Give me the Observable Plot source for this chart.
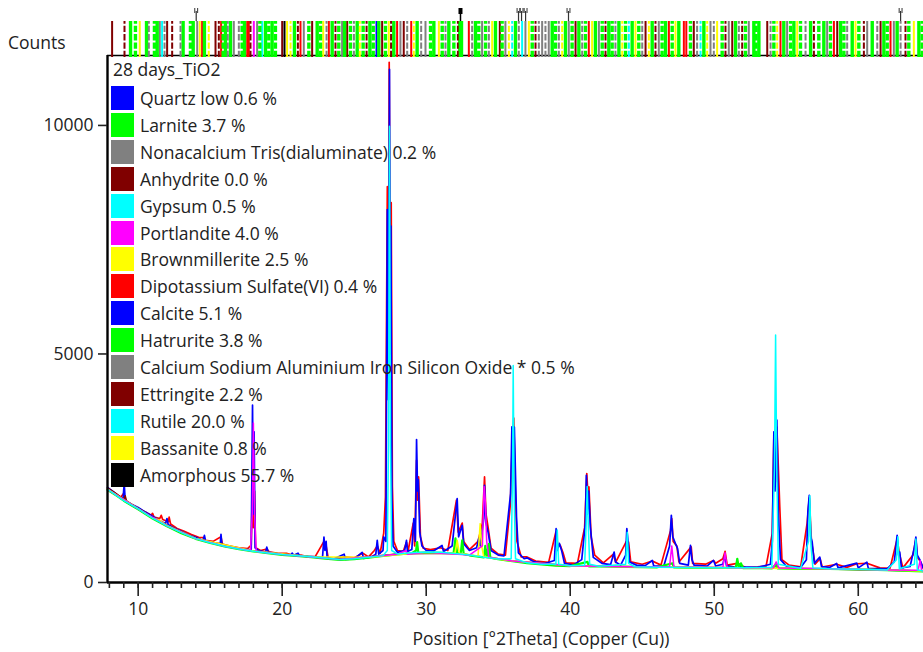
<!DOCTYPE html>
<html><head><meta charset="utf-8">
<script src="https://cdn.jsdelivr.net/npm/d3@7"></script>
<script src="https://cdn.jsdelivr.net/npm/@observablehq/plot@0.6"></script>
<style>
body{margin:0;background:#fff;}
#wrap{position:relative;width:923px;height:652px;overflow:hidden;font-family:"Open Sans",sans-serif;color:#222;}
#wrap svg{position:absolute;left:0;top:0;}
.lab{position:absolute;white-space:nowrap;font-size:17.5px;line-height:20px;}
.row{position:absolute;left:111px;height:24px;white-space:nowrap;font-size:17.5px;}
.sw{position:absolute;left:0;top:0;width:23px;height:24px;}
.tx{position:absolute;left:29px;top:0;line-height:24px;}
</style></head>
<body><div id="wrap"></div>
<script>
// ---------- data ----------
const sampleName = "28 days_TiO2";
const phaseNames = ["Quartz low 0.6 %","Larnite 3.7 %","Nonacalcium Tris(dialuminate) 0.2 %","Anhydrite 0.0 %","Gypsum 0.5 %","Portlandite 4.0 %","Brownmillerite 2.5 %","Dipotassium Sulfate(VI) 0.4 %","Calcite 5.1 %","Hatrurite 3.8 %","Calcium Sodium Aluminium Iron Silicon Oxide * 0.5 %","Ettringite 2.2 %","Rutile 20.0 %","Bassanite 0.8 %","Amorphous 55.7 %"];
const phaseColors = ["#0000ff","#00ff00","#808080","#800000","#00ffff","#ff00ff","#ffff00","#ff0000","#0000ff","#00ff00","#808080","#800000","#00ffff","#ffff00","#000000"];
const yTicks = [0, 5000, 10000];
const xMajorTicks = [10, 20, 30, 40, 50, 60];
const xMinorTicks = d3.range(8, 65, 1);
const xTitle = "Position [°2Theta] (Copper (Cu))";
const yTitle = "Counts";

// observed pattern (red)
const observed = [[7.87,2050],[8.3,1950],[8.6,1900],[8.8,1870],[9.0,1950],[9.1,1780],[9.5,1700],[10,1620],[10.4,1560],[10.9,1470],[11.0,1513],[11.1,1430],[11.5,1400],[11.6,1470],[11.7,1380],[12.1,1330],[12.15,1432],[12.25,1280],[12.7,1180],[13.2,1120],[13.7,1050],[14.2,990],[14.55,980],[14.65,920],[15.2,900],[15.75,1000],[15.85,840],[16.3,800],[17,760],[17.6,740],[17.85,820],[17.92,2020],[18.0,1200],[18.08,2000],[18.15,760],[18.5,700],[18.93,730],[19.1,670],[19.7,640],[20.3,640],[20.7,600],[21.3,600],[21.8,560],[22.3,570],[22.9,900],[23.05,800],[23.2,530],[23.8,520],[24.3,560],[25,540],[25.6,640],[26.0,560],[26.4,700],[26.6,800],[26.8,640],[27.05,1081],[27.17,1870],[27.3,8660],[27.38,5000],[27.43,11380],[27.5,6000],[27.57,8310],[27.65,2105],[27.75,900],[28.0,700],[28.4,680],[28.63,880],[28.75,700],[29.1,1300],[29.2,800],[29.33,2675],[29.4,1800],[29.47,2310],[29.6,1000],[29.8,750],[30.3,720],[31.0,760],[31.5,700],[32.1,1800],[32.22,1100],[32.5,1300],[32.6,900],[33,720],[33.6,900],[33.9,1300],[34.05,2310],[34.15,1500],[34.3,1200],[34.5,750],[35,620],[35.5,600],[35.84,1700],[35.95,2800],[36.08,3597],[36.2,1800],[36.3,900],[36.6,560],[37,560],[37.6,470],[38.5,440],[39.0,1100],[39.15,800],[39.3,820],[39.5,650],[39.7,430],[40.5,420],[41.0,1200],[41.15,2383],[41.25,1800],[41.3,2090],[41.45,1000],[41.7,600],[42.3,430],[43,620],[43.15,440],[43.9,900],[44.05,884],[44.2,450],[45,400],[45.7,470],[46.3,380],[46.97,1140],[47.05,1400],[47.15,900],[47.4,800],[47.55,450],[48.4,780],[48.5,420],[49.4,400],[49.95,480],[50.1,420],[50.6,520],[50.75,680],[50.9,380],[51.6,420],[52.2,320],[53,340],[53.6,360],[54.03,1074],[54.14,3200],[54.25,2200],[54.35,3400],[54.55,1651],[54.7,500],[55.2,380],[56,340],[56.45,1300],[56.6,1850],[56.75,900],[57,400],[57.35,520],[57.5,340],[58.5,400],[59.2,330],[59.9,410],[60.6,420],[61.5,320],[62.2,310],[62.7,950],[62.85,640],[63.1,320],[63.8,600],[64.0,950],[64.1,550],[64.3,470],[64.53,300]];

// calculated pattern (blue)
const calculated = [[7.87,2080],[8.3,1980],[8.7,1880],[8.95,1830],[9.03,2165],[9.1,1800],[9.5,1720],[10,1640],[10.5,1540],[11,1450],[11.5,1350],[11.9,1290],[12.0,1400],[12.08,1270],[12.5,1190],[13,1120],[13.5,1040],[14,990],[14.5,920],[14.6,1030],[14.68,910],[15,890],[15.5,840],[15.7,830],[15.75,1052],[15.82,815],[16.5,780],[17,750],[17.5,720],[17.85,720],[17.94,3880],[18.0,1500],[18.05,3296],[18.12,760],[18.4,690],[18.85,665],[18.93,774],[19.0,700],[19.05,660],[19.5,640],[20,615],[20.6,600],[20.7,643],[20.8,595],[21.1,640],[21.2,585],[22,565],[22.8,550],[22.9,994],[22.97,700],[23.05,900],[23.12,540],[23.6,520],[24.3,620],[24.4,505],[25,515],[25.55,660],[25.65,525],[26.2,560],[26.5,620],[26.6,921],[26.7,620],[27.0,700],[27.05,1000],[27.2,900],[27.3,8160],[27.38,4000],[27.45,11228],[27.5,5000],[27.55,7800],[27.62,1800],[27.7,800],[28,660],[28.5,700],[28.63,921],[28.7,680],[29.0,720],[29.14,1400],[29.25,900],[29.33,3129],[29.4,2000],[29.45,2250],[29.55,1100],[29.7,800],[30,700],[30.5,690],[31.1,811],[31.2,680],[31.8,800],[32.15,1835],[32.25,1000],[32.5,1250],[32.6,850],[33,700],[33.5,760],[33.65,965],[33.75,800],[34.0,1400],[34.05,2127],[34.15,1300],[34.3,1100],[34.5,700],[35,600],[35.4,580],[35.86,1945],[35.95,3406],[36.05,2500],[36.12,3400],[36.27,1432],[36.4,650],[36.8,520],[37.0,540],[37.5,450],[38.3,420],[38.9,480],[39.02,1177],[39.1,700],[39.25,855],[39.4,702],[39.6,420],[40.2,380],[40.8,500],[41.05,1300],[41.12,2346],[41.2,1500],[41.28,2000],[41.4,1213],[41.6,550],[42.2,420],[42.8,390],[43.05,665],[43.15,450],[43.5,380],[43.85,600],[43.93,1177],[44.02,884],[44.12,450],[44.6,380],[45.2,370],[45.7,482],[45.8,360],[46.5,360],[46.9,800],[47.02,1469],[47.12,1000],[47.3,855],[47.45,745],[47.6,420],[48.2,380],[48.35,811],[48.45,500],[48.6,380],[49.5,360],[49.95,482],[50.1,360],[50.6,400],[50.74,600],[50.85,370],[51.5,330],[51.6,450],[51.8,340],[53,330],[53.9,400],[54.03,900],[54.14,3296],[54.22,2000],[54.35,3553],[54.45,1500],[54.6,500],[55,360],[56,330],[56.4,500],[56.5,1542],[56.6,1908],[56.7,1000],[56.8,884],[56.95,420],[57.33,555],[57.45,350],[58,330],[58.5,417],[58.6,320],[59.9,423],[60,320],[60.6,445],[60.7,310],[62,300],[62.5,450],[62.7,1030],[62.8,600],[62.88,665],[63.0,320],[63.6,350],[63.9,774],[64.0,994],[64.1,600],[64.3,482],[64.53,300]];

// phase profiles
const larniteProfile = [[7.87,2030],[8.5,1900],[9,1790],[10,1600],[11,1400],[12,1230],[13,1080],[14,955],[15,865],[16,790],[17,730],[18,680],[19,640],[20,605],[21,580],[22,555],[23,522],[24,497],[25,512],[26,545],[27,580],[28,615],[29,640],[29.3,700],[29.37,884],[29.45,650],[30,655],[31,650],[31.9,640],[32.03,965],[32.15,650],[32.4,640],[32.5,921],[32.6,630],[33,595],[34,550],[34.1,800],[34.2,560],[34.35,848],[34.45,545],[35,510],[36,465],[37,425],[38,395],[39,370],[40,360],[41.2,450],[41.3,352],[42,350],[44,340],[46,330],[47.1,420],[47.2,330],[48,325],[50,320],[51.5,318],[51.6,519],[51.7,330],[51.85,420],[52,316],[54,310],[54.3,400],[54.4,310],[56,300],[58,295],[60,285],[62,270],[64.53,245]];
const ettringiteProfile = [[7.87,2070],[8.5,1940],[9.0,1820],[9.1,1900],[9.2,1780],[10,1625],[11,1425],[12,1255],[13,1105],[14,972],[15,882],[15.8,850],[15.9,800],[17,742],[18,692],[20,617],[24,507],[28,627],[32,637],[36,472],[40,367],[48,332],[56,307],[64.53,252]];
const brownProfile = [[7.87,2040],[10,1615],[11,1415],[11.5,1360],[12,1245],[14,962],[18,688],[22,563],[26,553],[30,663],[32.0,640],[32.15,921],[32.3,640],[33.6,580],[33.75,1287],[33.85,800],[34.0,560],[36,470],[40,365],[44,345],[48,330],[52,320],[56,305],[60,290],[64.53,250]];
const portlanditeProfile = [[7.87,2040],[10,1610],[12,1240],[14,960],[16,795],[17.8,695],[17.92,1500],[18.0,3490],[18.08,1500],[18.2,680],[20,612],[24,503],[28,620],[28.6,700],[28.7,620],[30,660],[33,600],[33.9,800],[34.02,2100],[34.1,1800],[34.2,900],[34.35,555],[36,470],[40,365],[44,345],[46.9,350],[47.05,800],[47.2,340],[50.6,330],[50.75,650],[50.9,325],[54.1,320],[54.3,450],[54.5,315],[58,300],[62,275],[64.15,270],[64.3,482],[64.4,260],[64.53,250]];
const rutileProfile = [[7.87,2040],[9,1790],[10,1610],[11,1410],[12,1240],[13,1090],[14,960],[15,870],[16,795],[17,735],[18,685],[19,645],[20,612],[22,562],[24,503],[25,518],[26,553],[27,588],[27.3,700],[27.38,3000],[27.45,9980],[27.52,3000],[27.6,700],[28,625],[29,650],[30,665],[31,660],[32,635],[33,600],[34,555],[35,515],[35.9,520],[36.0,2500],[36.04,4750],[36.1,2000],[36.2,520],[37,430],[38,400],[39,400],[39.1,1150],[39.2,400],[40,365],[41,380],[41.1,1200],[41.18,2100],[41.25,1300],[41.35,400],[42,355],[43.85,400],[43.96,1100],[44.05,420],[44.5,345],[46,335],[48,330],[50,325],[52,320],[54,330],[54.18,2500],[54.26,5417],[54.34,2500],[54.45,400],[56,310],[56.55,900],[56.64,1900],[56.72,800],[56.85,320],[58,300],[60,290],[62,275],[62.65,500],[62.75,1000],[62.85,300],[63.9,400],[64.0,950],[64.1,280],[64.53,250]];

// reference stick positions (°2θ) and phase index
const stickTheta = [8.19,9.05,9.47,9.81,10.11,10.58,10.74,11.13,11.32,11.50,11.66,11.83,12.01,12.36,12.94,13.12,13.63,13.82,14.10,14.28,14.44,14.60,14.90,15.37,15.60,15.76,15.90,16.06,16.22,16.41,16.64,16.99,17.22,17.38,17.57,17.68,17.80,18.03,18.26,18.45,18.61,18.84,19.07,19.30,19.53,20.00,20.16,20.34,20.58,20.85,21.09,21.27,21.50,21.85,22.08,22.43,22.66,22.85,23.08,23.24,23.47,23.70,23.93,24.16,24.33,24.51,24.74,24.98,25.21,25.39,25.62,25.86,26.09,26.32,26.55,26.71,26.94,27.17,27.40,27.56,27.75,27.98,28.21,28.44,28.68,28.96,29.14,29.37,29.65,29.95,30.30,30.53,30.88,31.11,31.34,31.57,31.92,32.20,32.33,32.38,32.45,32.96,33.19,33.42,33.65,33.88,34.12,34.35,34.58,34.81,35.11,35.27,35.50,35.74,35.97,36.20,36.43,36.66,36.89,37.13,37.36,37.59,37.82,38.05,38.28,38.51,38.75,38.98,39.21,39.44,39.67,39.90,40.13,40.37,40.60,40.83,41.06,41.29,41.52,41.75,41.99,42.22,42.45,42.68,42.91,43.14,43.38,43.61,43.84,44.07,44.30,44.53,44.76,45.00,45.23,45.46,45.69,45.92,46.15,46.38,46.62,46.85,47.08,47.31,47.54,47.89,48.06,48.35,48.58,48.81,49.05,49.28,49.51,49.74,49.97,50.20,50.55,50.78,51.01,51.25,51.48,51.71,51.94,52.17,52.40,52.75,52.90,53.10,53.68,53.91,54.14,54.37,54.60,54.83,55.06,55.30,55.53,55.76,55.99,56.34,56.69,56.92,57.26,57.61,57.84,58.07,58.31,58.54,58.77,59.00,59.23,59.58,59.81,60.04,60.39,60.62,60.97,61.32,61.55,61.78,62.01,62.24,62.47,62.70,62.94,63.28,63.51,63.86,64.21,64.44];
const stickPhase = [3,11,1,9,6,1,10,9,1,2,4,10,3,11,10,1,9,1,2,6,7,1,13,3,11,7,9,1,10,1,2,10,9,1,7,7,11,5,2,9,4,1,9,1,9,3,14,6,13,1,11,7,2,9,3,1,9,6,10,7,1,11,9,2,1,3,9,10,1,13,9,11,1,9,0,1,3,9,6,11,1,7,2,3,10,7,13,1,10,2,9,1,6,9,10,1,9,11,1,9,1,7,10,1,9,2,9,10,6,1,3,9,2,13,12,1,10,4,2,6,9,11,10,2,10,2,1,9,10,13,1,2,9,3,1,10,9,7,6,1,2,9,11,1,9,10,1,13,9,12,1,6,9,10,3,13,1,11,2,9,1,7,9,6,1,7,7,9,3,10,12,1,13,2,10,6,9,11,2,3,1,10,11,9,2,1,9,1,3,10,9,13,7,1,2,9,1,6,9,10,1,11,9,1,2,9,7,3,1,9,10,1,6,9,11,2,1,10,3,1,9,7,2,1,10,11,9,6,1,9];
const markerTheta = [14.03, 36.41, 36.62, 36.9, 39.88, 62.94];
const markerFilledTheta = [32.38];

// ---------- chart ----------
const xMin = 7.87, xMax = 64.53, yMax = 11530;
const pxToCount = px => (582 - px) * yMax / 527;   // vertical placement above the frame
const sticks = stickTheta.map((t, i) => ({theta: t, phase: stickPhase[i]}));
const isGreen = d => d.phase === 1 || d.phase === 9;
const solidSticks = sticks.filter(d => (d.phase < 8 || d.phase === 14));
const dashedSticks = sticks.filter(d => d.phase >= 8 && d.phase < 14);
const X = d => d[0], Y = d => d[1];
const FS = 17.5;
const stickMark = (data, dash) => [
  Plot.ruleX(data.filter(d => !isGreen(d)), {x: "theta", y1: pxToCount(57), y2: pxToCount(21), stroke: d => phaseColors[d.phase], strokeWidth: 2, strokeDasharray: dash}),
  Plot.ruleX(data.filter(isGreen), {x: "theta", y1: pxToCount(57), y2: pxToCount(21), stroke: d => phaseColors[d.phase], strokeWidth: 3.4, strokeDasharray: dash})
];

const chart = Plot.plot({
  width: 923, height: 652,
  marginLeft: 107, marginRight: 0, marginTop: 55, marginBottom: 70,
  style: {fontFamily: "Open Sans, sans-serif", fontSize: FS + "px", color: "#222", background: "white", overflow: "visible"},
  x: {domain: [xMin, xMax], label: null},
  y: {domain: [0, yMax], label: null},
  marks: [
    Plot.ruleY([yMax], {stroke: "#000", strokeWidth: 1.5}),
    ...stickMark(solidSticks, null),
    ...stickMark(dashedSticks, "6.3,2"),
    Plot.ruleX(markerTheta, {x: d => d, y1: pxToCount(21), y2: pxToCount(11), stroke: "#333", strokeWidth: 1.2}),
    Plot.ruleX(markerTheta, {x: d => d - 0.1, y1: pxToCount(13), y2: pxToCount(8), stroke: "#333", strokeWidth: 1}),
    Plot.ruleX(markerTheta, {x: d => d + 0.1, y1: pxToCount(13), y2: pxToCount(8), stroke: "#333", strokeWidth: 1}),
    Plot.ruleX(markerFilledTheta, {x: d => d, y1: pxToCount(21), y2: pxToCount(8), stroke: "#000", strokeWidth: 1.5}),
    Plot.ruleX(markerFilledTheta, {x: d => d, y1: pxToCount(14), y2: pxToCount(8), stroke: "#000", strokeWidth: 4}),
    Plot.line(observed, {x: X, y: Y, stroke: "#ff0000", strokeWidth: 1.7}),
    Plot.line(calculated, {x: X, y: Y, stroke: "#0000ff", strokeWidth: 1.7}),
    Plot.line(ettringiteProfile, {x: X, y: Y, stroke: "#800000", strokeWidth: 1.4}),
    Plot.line(larniteProfile, {x: X, y: Y, stroke: "#00ff00", strokeWidth: 2.2}),
    Plot.line(brownProfile, {x: X, y: Y, stroke: "#ffff00", strokeWidth: 1.6}),
    Plot.line(portlanditeProfile, {x: X, y: Y, stroke: "#ff00ff", strokeWidth: 1.5}),
    Plot.line(rutileProfile, {x: X, y: Y, stroke: "#00ffff", strokeWidth: 1.5}),
    Plot.ruleX([xMin], {y1: 0, y2: yMax, stroke: "#000", strokeWidth: 2.4}),
    Plot.ruleY([0], {stroke: "#000", strokeWidth: 2.6}),
    Plot.axisY({ticks: yTicks, tickSize: 9, tickPadding: 5, tickFormat: d => String(d), strokeWidth: 1.6, fontSize: FS}),
    Plot.axisX({ticks: xMinorTicks, tickSize: 6, tickFormat: () => "", strokeWidth: 1.6}),
    Plot.axisX({ticks: xMajorTicks, tickSize: 14, tickPadding: 6, tickFormat: d => String(d), strokeWidth: 1.6, fontSize: FS})
  ]
});
const wrap = document.getElementById("wrap");
wrap.appendChild(chart);

function addLabel(text, left, top, extra) {
  const d = document.createElement("div");
  d.className = "lab"; d.textContent = text;
  d.style.left = left + "px"; d.style.top = top + "px";
  if (extra) Object.assign(d.style, extra);
  wrap.appendChild(d);
  return d;
}
addLabel(yTitle, 8, 32);
addLabel(xTitle, 541, 628, {transform: "translateX(-50%)"});
addLabel(sampleName, 113, 59);
phaseNames.forEach((name, i) => {
  const r = document.createElement("div");
  r.className = "row";
  r.style.top = (86 + i * 26.9) + "px";
  const s = document.createElement("div"); s.className = "sw"; s.style.background = phaseColors[i];
  const t = document.createElement("div"); t.className = "tx"; t.textContent = name;
  r.appendChild(s); r.appendChild(t);
  wrap.appendChild(r);
});
</script></body></html>
